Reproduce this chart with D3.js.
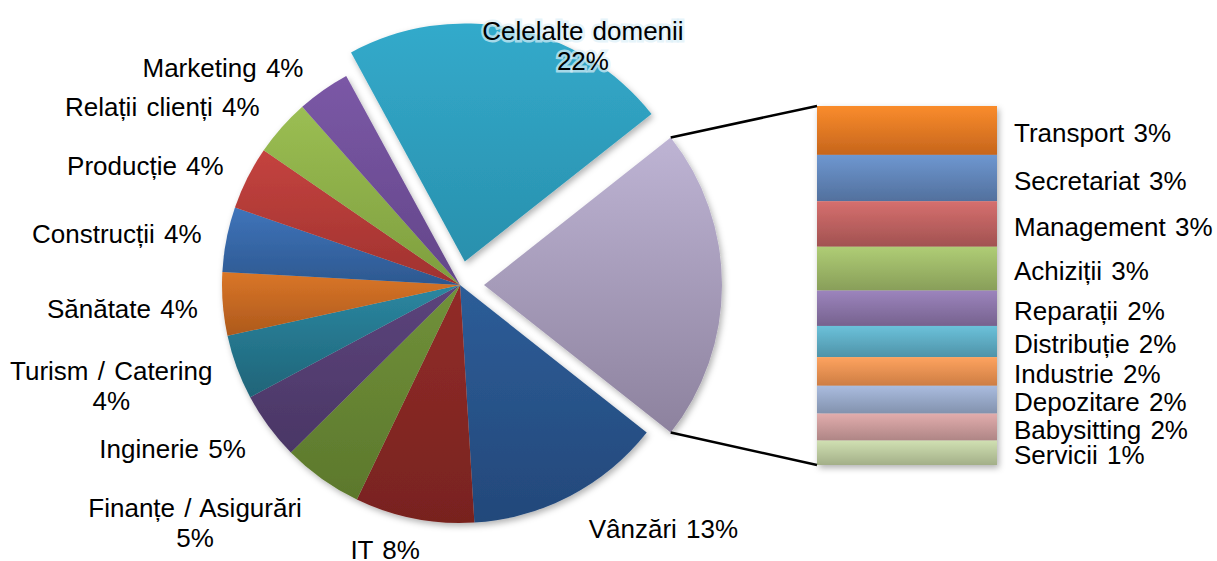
<!DOCTYPE html>
<html>
<head>
<meta charset="utf-8">
<script src="https://cdn.jsdelivr.net/npm/d3@7"></script>
<style>
  body { margin: 0; background: #fff; }
  text { font-family: "Liberation Sans", Arial, sans-serif; font-size: 26px; fill: #000; word-spacing: 2px; }
</style>
</head>
<body>
<div id="chart"></div>
<script>
// pie slices, clockwise, starting after the "other" slice (which is drawn as the bar)
const pieNames = ["Vânzări", "IT", "Finanțe / Asigurări", "Inginerie", "Turism / Catering", "Sănătate",
    "Construcții", "Producție", "Relații clienți", "Marketing", "Celelalte domenii"];
const pieValues = [13.4, 8.1, 5.45, 4.6, 4.4, 4.3, 4.4, 4.3, 3.9, 3.6, 22.3];
const pieColors = [
    ["#2d5d98", "#23487a"], ["#922c29", "#78231f"], ["#71913a", "#5c782c"], ["#5c447c", "#4a3665"],
    ["#2b87a1", "#1f6478"], ["#da7628", "#ad591c"], ["#3f74ba", "#2d5890"], ["#c4433f", "#a0322f"],
    ["#9bbe53", "#7e9e3e"], ["#7b58a6", "#634689"], ["#33aacb", "#2990ad"]
];
const otherColor = ["#beb4d4", "#8d829e"];

// the bar (breakdown of the "other" slice), top to bottom
const barNames = ["Transport", "Secretariat", "Management", "Achiziții", "Reparații", "Distribuție",
    "Industrie", "Depozitare", "Babysitting", "Servicii"];
const barValues = [2.9, 2.75, 2.7, 2.6, 2.1, 1.85, 1.7, 1.65, 1.6, 1.45];
const barColors = [
    ["#fa8c2c", "#c6651c"], ["#6e97d0", "#52709d"], ["#d66f6e", "#a15251"], ["#afcd75", "#889e59"],
    ["#9c84bd", "#76628e"], ["#6bc1da", "#4f93a8"], ["#fea35f", "#cd7d44"], ["#aabcdf", "#8292ad"],
    ["#e2adad", "#ae8585"], ["#d0e0b2", "#a3af88"]
];

// names whose percentage goes on a second line
const wrapNames = ["Turism / Catering", "Finanțe / Asigurări", "Celelalte domenii"];
// small label nudges, like Excel's best-fit placement
const labelNudge = {
    "Relații clienți": [0, -3], "Sănătate": [0, 3], "Turism / Catering": [0, 4], "Inginerie": [0, 7],
    "Finanțe / Asigurări": [0, 10], "IT": [21, 5], "Vânzări": [0, 9], "Celelalte domenii": [74, 0]
};

(function() {
    const width = 1217
    const height = 561
    const cx = 460, cy = 285, radius = 238, explode = 24
    const barX = 817, barW = 180, barTop = 106, barBottom = 465

    const svg = d3.select("#chart")
        .append("svg")
        .attr("width", width)
        .attr("height", height)

    const defs = svg.append("defs")
    const shadow = defs.append("filter").attr("id", "shadow")
        .attr("x", "-20%").attr("y", "-20%").attr("width", "140%").attr("height", "140%")
    shadow.append("feDropShadow")
        .attr("dx", 2).attr("dy", 3).attr("stdDeviation", 3)
        .attr("flood-color", "#000").attr("flood-opacity", 0.3)

    let gid = 0
    function gradient(c) {
        const id = "g" + (gid++)
        const g = defs.append("linearGradient").attr("id", id)
            .attr("x1", 0).attr("y1", 0).attr("x2", 0).attr("y2", 1)
        g.append("stop").attr("offset", "0%").attr("stop-color", c[0])
        g.append("stop").attr("offset", "100%").attr("stop-color", c[1])
        return "url(#" + id + ")"
    }

    const otherValue = d3.sum(barValues)
    const total = d3.sum(pieValues) + otherValue
    const pct = v => Math.round(v / total * 100) + "%"

    const slices = [{ name: "other", value: otherValue, color: otherColor }]
        .concat(pieNames.map((n, i) => ({ name: n, value: pieValues[i], color: pieColors[i] })))

    const otherAngle = otherValue / total * 2 * Math.PI
    const start = Math.PI / 2 - otherAngle / 2
    const pie = d3.pie().value(d => d.value).sort(null)
        .startAngle(start).endAngle(start + 2 * Math.PI)
    const arcs = pie(slices)
    const arc = d3.arc().innerRadius(0).outerRadius(radius)

    const exploded = new Set(["other", "Celelalte domenii"])
    const mid = d => (d.startAngle + d.endAngle) / 2
    const offset = d => exploded.has(d.data.name)
        ? [explode * Math.sin(mid(d)), -explode * Math.cos(mid(d))] : [0, 0]

    // main pie
    const main = svg.append("g")
        .attr("transform", `translate(${cx},${cy})`)
        .attr("filter", "url(#shadow)")
    main.selectAll("path")
        .data(arcs.filter(d => !exploded.has(d.data.name)))
        .join("path")
        .attr("d", arc)
        .attr("fill", d => gradient(d.data.color))

    // exploded slices
    arcs.filter(d => exploded.has(d.data.name)).forEach(d => {
        const o = offset(d)
        svg.append("path")
            .attr("transform", `translate(${cx + o[0]},${cy + o[1]})`)
            .attr("filter", "url(#shadow)")
            .attr("d", arc(d))
            .attr("fill", gradient(d.data.color))
    })

    // bar
    const y = d3.scaleLinear().domain([0, otherValue]).range([barTop, barBottom])
    const cum = [0].concat(Array.from(d3.cumsum(barValues)))
    const bar = svg.append("g").attr("filter", "url(#shadow)")
    bar.selectAll("rect")
        .data(barValues)
        .join("rect")
        .attr("x", barX)
        .attr("width", barW)
        .attr("y", (v, i) => y(cum[i]))
        .attr("height", (v, i) => y(cum[i + 1]) - y(cum[i]))
        .attr("fill", (v, i) => gradient(barColors[i]))

    svg.append("g").selectAll("text")
        .data(barValues)
        .join("text")
        .attr("x", barX + barW + 17)
        .attr("y", (v, i) => (y(cum[i]) + y(cum[i + 1])) / 2)
        .attr("dy", "0.45em")
        .text((v, i) => barNames[i] + " " + pct(v))

    // connector lines
    const od = arcs[0], oo = offset(od)
    const corner = a => [cx + oo[0] + radius * Math.sin(a), cy + oo[1] - radius * Math.cos(a)]
    const lines = [[corner(od.startAngle), [barX, y(0)]], [corner(od.endAngle), [barX, y(otherValue)]]]
    svg.append("g").selectAll("line")
        .data(lines)
        .join("line")
        .attr("x1", d => d[0][0]).attr("y1", d => d[0][1])
        .attr("x2", d => d[1][0]).attr("y2", d => d[1][1])
        .attr("stroke", "#000")
        .attr("stroke-width", 2.5)

    // pie labels
    const lineH = 30
    arcs.filter(d => d.data.name !== "other").forEach(d => {
        const name = d.data.name
        const lines = wrapNames.includes(name)
            ? [name, pct(d.value)] : [name + " " + pct(d.value)]
        const t = svg.append("text").attr("text-anchor", "middle")
        lines.forEach((l, i) => {
            t.append("tspan").attr("x", 0)
                .attr("y", -(lines.length - 1) * lineH / 2 + i * lineH + 9)
                .text(l)
        })
        if (name === "Celelalte domenii") {
            t.style("paint-order", "stroke").attr("stroke", "rgba(220,240,248,0.7)").attr("stroke-width", 5)
        }
        const w = t.node().getBBox().width
        const h = lines.length * lineH
        const a = mid(d), o = offset(d)
        const nudge = labelNudge[name] || [0, 0]
        let px, py
        if (exploded.has(name)) {
            // inside the slice
            px = cx + o[0] + 220 * Math.sin(a)
            py = cy + o[1] - 220 * Math.cos(a)
        } else {
            const r = radius + 12
            px = cx + r * Math.sin(a) + Math.sign(Math.sin(a)) * (w / 2 + 13)
            py = cy - r * Math.cos(a) - Math.cos(a) * h / 2
        }
        t.attr("transform", `translate(${px + nudge[0]},${py + nudge[1]})`)
    })
})();
</script>
</body>
</html>
